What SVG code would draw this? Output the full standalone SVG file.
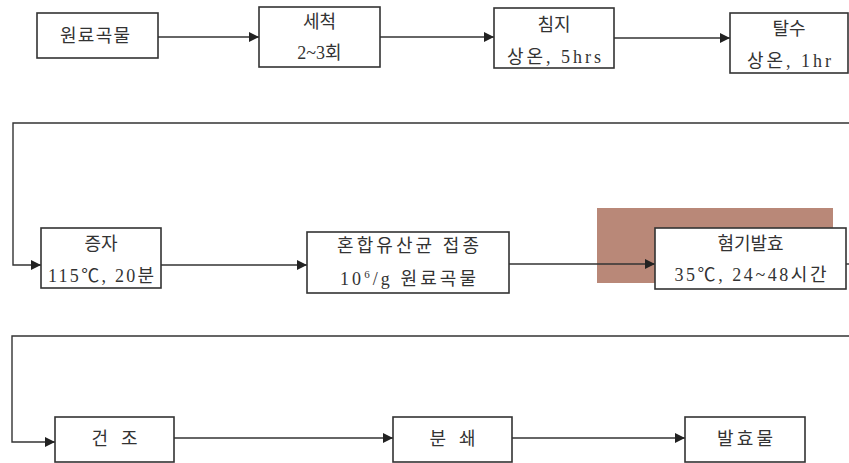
<svg xmlns="http://www.w3.org/2000/svg" width="849" height="463" viewBox="0 0 849 463">
<defs>
<style>
.box{fill:#fff;stroke:#333;stroke-width:1.6}
.t{font-family:"Liberation Serif","Noto Sans CJK KR",serif;font-size:18px;fill:#333;text-anchor:middle}
.c{fill:none;stroke:#333;stroke-width:1.4}
</style>
<marker id="ah" viewBox="0 0 10 10" refX="10" refY="5" markerWidth="10" markerHeight="10" markerUnits="userSpaceOnUse" orient="auto">
<path d="M0,0 L10,5 L0,10 z" fill="#222"/>
</marker>
</defs>
<rect width="849" height="463" fill="#fff"/>
<rect x="597" y="208" width="236" height="75" fill="#b98878"/>
<g id="connectors">
<line class="c" x1="158" y1="37" x2="259" y2="37" marker-end="url(#ah)"/>
<line class="c" x1="380" y1="37" x2="494" y2="37" marker-end="url(#ah)"/>
<line class="c" x1="614" y1="38" x2="730" y2="38" marker-end="url(#ah)"/>
<polyline class="c" points="849,123 13,123 13,265 41,265" marker-end="url(#ah)"/>
<line class="c" x1="161" y1="265" x2="307" y2="265" marker-end="url(#ah)"/>
<line class="c" x1="509" y1="264" x2="655" y2="264" marker-end="url(#ah)"/>
<line class="c" x1="846" y1="264" x2="849" y2="264"/>
<polyline class="c" points="849,336 12,336 12,442 55,442" marker-end="url(#ah)"/>
<line class="c" x1="174" y1="438" x2="393" y2="438" marker-end="url(#ah)"/>
<line class="c" x1="512" y1="438" x2="685" y2="438" marker-end="url(#ah)"/>
</g>
<g id="n1"><rect class="box" x="37" y="13" width="121" height="45"/><text class="t" x="95" y="42" textLength="70" lengthAdjust="spacing">원료곡물</text></g>
<g id="n2"><rect class="box" x="259" y="7" width="121" height="60"/><text class="t" x="319.5" y="28">세척</text><text class="t" x="319.5" y="59">2~3회</text></g>
<g id="n3"><rect class="box" x="494" y="8" width="120" height="60"/><text class="t" x="554" y="31">침지</text><text class="t" x="554" y="63" textLength="94" lengthAdjust="spacing">상온, 5hrs</text></g>
<g id="n4"><rect class="box" x="730" y="13" width="118" height="60"/><text class="t" x="789" y="35">탈수</text><text class="t" x="789" y="67" textLength="84" lengthAdjust="spacing">상온, 1hr</text></g>
<g id="n5"><rect class="box" x="41" y="228" width="120" height="60"/><text class="t" x="101" y="250">증자</text><text class="t" x="101" y="282" textLength="106" lengthAdjust="spacing">115℃, 20분</text></g>
<g id="n6"><rect class="box" x="307" y="232" width="202" height="61"/><text class="t" x="408" y="252" textLength="142" lengthAdjust="spacing">혼합유산균 접종</text><text class="t" x="408" y="285" textLength="136" lengthAdjust="spacing">10<tspan font-size="11" dy="-7">6</tspan><tspan dy="7">/g 원료곡물</tspan></text></g>
<g id="n7"><rect class="box" x="655" y="228" width="191" height="61"/><text class="t" x="750.5" y="250">혐기발효</text><text class="t" x="750.5" y="281" textLength="152" lengthAdjust="spacing">35℃, 24~48시간</text></g>
<g id="n8"><rect class="box" x="55" y="417" width="119" height="45"/><text class="t" x="114.5" y="445" textLength="46" lengthAdjust="spacing">건 조</text></g>
<g id="n9"><rect class="box" x="393" y="417" width="119" height="45"/><text class="t" x="452.5" y="445" textLength="46" lengthAdjust="spacing">분 쇄</text></g>
<g id="n10"><rect class="box" x="685" y="417" width="120" height="45"/><text class="t" x="745" y="445" textLength="56" lengthAdjust="spacing">발효물</text></g>
</svg>
